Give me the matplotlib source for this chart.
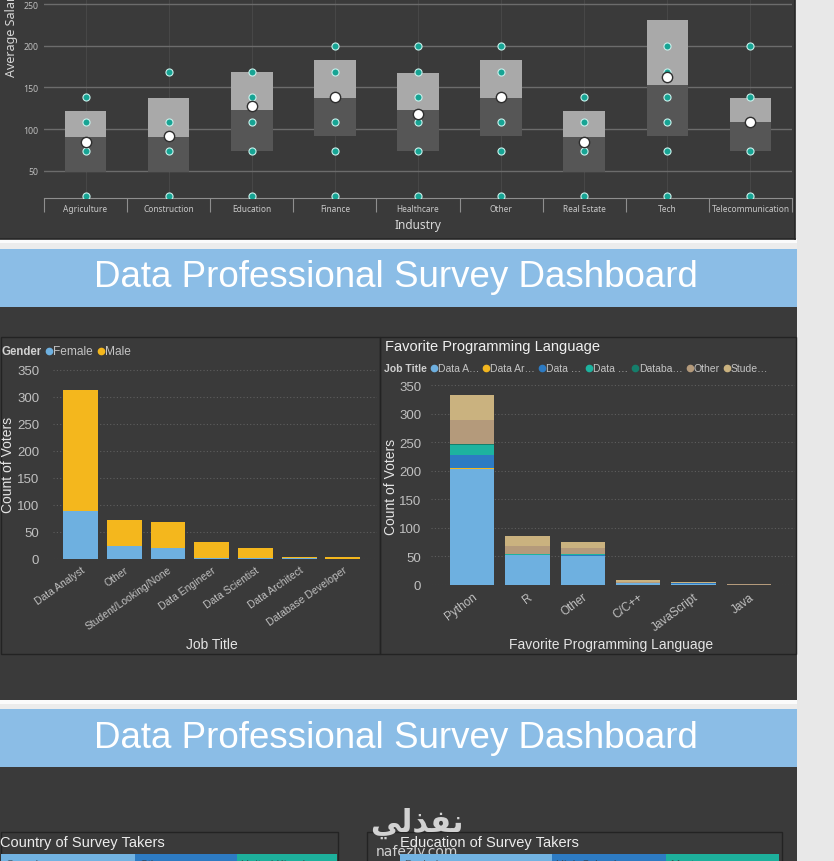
import matplotlib.pyplot as plt
from matplotlib.patches import Rectangle
import numpy as np

plt.rcParams['font.family'] = ['Liberation Sans', 'DejaVu Sans']

W, H = 834, 862

# --- top chart: average salary by industry (box and whisker) ---
industries = ['Agriculture', 'Construction', 'Education', 'Finance', 'Healthcare',
              'Other', 'Real Estate', 'Tech', 'Telecommunication']
sal_q1 = [48, 48, 74, 92, 74, 92, 48, 92, 74]
sal_med = [91, 91, 123, 137, 123, 137, 91, 153, 108]
sal_q3 = [122, 137, 168, 183, 167, 183, 122, 231, 137]
sal_mean = [85, 92, 128, 138, 118, 138, 85, 163, 108]
sal_points = [
    [20, 74, 108, 138],
    [20, 74, 108, 168],
    [20, 74, 108, 138, 168],
    [20, 74, 108, 138, 168, 200],
    [20, 74, 108, 138, 168, 200],
    [20, 74, 108, 138, 168, 200],
    [20, 74, 108, 138],
    [20, 74, 108, 138, 168, 200],
    [20, 74, 108, 138, 200],
]

# --- job title by gender ---
job_titles = ['Data Analyst', 'Other', 'Student/Looking/None', 'Data Engineer',
              'Data Scientist', 'Data Architect', 'Database Developer']
female = [88, 25, 20, 1, 1, 1, 0]
male = [225, 47, 49, 31, 19, 3, 4]

# --- favorite programming language by job title ---
languages = ['Python', 'R', 'Other', 'C/C++', 'JavaScript', 'Java']
lang_series = ['Data Analyst', 'Data Architect', 'Data Engineer', 'Data Scientist',
               'Database Developer', 'Other', 'Student/Looking/None']
lang_legend = ['Data A…', 'Data Ar…', 'Data …', 'Data …', 'Databa…', 'Other', 'Stude…']
lang_counts = [
    [203, 52, 50, 3, 2, 0],   # Data Analyst
    [2, 0, 0, 0, 0, 0],       # Data Architect
    [22, 1, 2, 1, 1, 0],      # Data Engineer
    [18, 2, 2, 0, 0, 0],      # Data Scientist
    [1, 0, 0, 0, 0, 0],       # Database Developer
    [43, 14, 10, 2, 1, 1],    # Other
    [44, 17, 12, 2, 2, 1],    # Student/Looking/None
]

# --- bottom treemap slivers ---
countries = ['Canada', 'Other', 'United Kingdom']
country_share = [134, 102, 100]
educations = ['Bachelors', 'High School', 'Masters']
education_share = [152, 114, 113]

DARK = '#3a3a3a'
BANNER = '#8bbde6'
LBLUE = '#6eb0e0'
ORANGE = '#f4b71d'
lang_colors = ['#6eb0e0', '#f2b61f', '#2d7bc3', '#1db39f', '#157e6b', '#b49a7b', '#cab27f']
cell_colors = ['#72b3e2', '#2d7bc3', '#1db09c']

fig = plt.figure(figsize=(W / 100, H / 100), dpi=100, facecolor='#e8e8e8')


def px_axes(l, t, w, h):
    a = fig.add_axes([l / W, 1 - (t + h) / H, w / W, h / H])
    a.set_facecolor('none')
    a.set_zorder(2)
    return a


bg = fig.add_axes([0, 0, 1, 1])
bg.set_xlim(0, W)
bg.set_ylim(H, 0)
bg.axis('off')
bg.set_zorder(0)


def rect(x, y, w, h, fc, ec='none', lw=0):
    bg.add_patch(Rectangle((x, y), w, h, facecolor=fc, edgecolor=ec, linewidth=lw))


# page background pieces
rect(0, 0, 795, 240, DARK)
rect(0, 240, 797, 4, '#fbfbfb')
rect(0, 244, 797, 6, '#ececec')
rect(0, 250, 797, 58, BANNER)
rect(0, 308, 797, 393, DARK)
rect(0, 701, 797, 4, '#fbfbfb')
rect(0, 705, 797, 5, '#ececec')
rect(0, 710, 797, 58, BANNER)
rect(0, 768, 797, 94, DARK)
bg.plot([795, 795], [0, 240], color='#262626', lw=1.2)
bg.plot([0, 795], [239.5, 239.5], color='#262626', lw=1.2)
rect(0.5, 338, 380, 317, 'none', '#232323', 1)
rect(380.5, 338, 416, 317, 'none', '#232323', 1)
rect(0.5, 833, 338, 40, 'none', '#232323', 1)
rect(367, 833, 415, 40, 'none', '#232323', 1)

title = 'Data Professional Survey Dashboard'
for base in (287, 748):
    bg.text(396, base, title, ha='center', va='baseline', fontsize=26.5, color='white')

# ---------------- top chart ----------------
ax1 = px_axes(44, 0, 748, 199)
xi = np.arange(len(industries))
ax1.set_xlim(-0.5, 8.5)
ax1.set_ylim(17.4, 256)
for i in xi:
    ax1.axvline(i, color='#474747', lw=0.8, zorder=0)
ax1.set_yticks([50, 100, 150, 200, 250])
ax1.yaxis.grid(True, color='#6c6c6c', lw=1)
ax1.set_axisbelow(True)
q1 = np.array(sal_q1)
med = np.array(sal_med)
q3 = np.array(sal_q3)
ax1.bar(xi, med - q1, bottom=q1, width=0.5, color='#565656', zorder=2)
ax1.bar(xi, q3 - med, bottom=med, width=0.5, color='#a9a9a9', zorder=2)
for i, pts in enumerate(sal_points):
    ax1.scatter([i] * len(pts), pts, s=26, c='#17a494', edgecolors='#c9f1ec',
                linewidths=0.8, zorder=3)
ax1.scatter(xi, sal_mean, s=55, c='white', edgecolors='#2e2e2e', linewidths=1, zorder=4)
ax1.set_xticks(xi, industries, fontfamily='Noto Sans')
ax1.set_xticks(np.arange(-0.5, 9, 1), minor=True)
ax1.tick_params(axis='x', which='major', length=0, pad=4, labelsize=6, labelcolor='#c8c8c8')
ax1.tick_params(axis='x', which='minor', length=10, width=0.8, color='#8e8e8e')
ax1.tick_params(axis='y', length=0, pad=4, labelsize=6.3, labelcolor='#bdbdbd')
for lab in ax1.get_yticklabels():
    lab.set_fontfamily('Noto Sans')
for s in ('top', 'left', 'right'):
    ax1.spines[s].set_visible(False)
ax1.spines['bottom'].set_color('#8e8e8e')
ax1.spines['bottom'].set_linewidth(0.8)
bg.text(12, 77, 'Average Salary', rotation=90, ha='center', va='bottom', fontsize=9,
        color='#d6d6d6', fontfamily='Noto Sans')
bg.text(418, 226, 'Industry', ha='center', va='center', fontsize=8.5,
        color='#d9d9d9', fontfamily='Noto Sans')

# ---------------- job title chart ----------------
ax2 = px_axes(53, 365.6, 324, 194.4)
xj = np.arange(len(job_titles))
ax2.set_xlim(-0.63, 6.78)
ax2.set_ylim(0, 360)
ax2.set_yticks(range(0, 351, 50))
ax2.yaxis.grid(True, color='#5e5e5e', ls=(0, (1, 2)), lw=0.8)
ax2.set_axisbelow(True)
ax2.bar(xj, female, width=0.8, color=LBLUE, zorder=2)
ax2.bar(xj, male, bottom=female, width=0.8, color=ORANGE, zorder=2)
ax2.set_xticks(xj, job_titles, rotation=35, ha='right', va='top', rotation_mode='anchor')
ax2.tick_params(axis='x', length=0, pad=4, labelsize=7.5, labelcolor='#c0c0c0')
ax2.tick_params(axis='y', length=0, pad=10, labelsize=9.5, labelcolor='#c0c0c0')
for s in ax2.spines.values():
    s.set_visible(False)
bg.text(212, 645, 'Job Title', ha='center', va='center', fontsize=10, color='#e4e4e4')
bg.text(8, 465, 'Count of Voters', rotation=90, ha='center', va='center', fontsize=10,
        color='#e4e4e4')
bg.text(1, 352, 'Gender', ha='left', va='center', fontsize=8.3, fontweight='bold', color='#d0d0d0')
for dx, lab, col in ((49, 'Female', LBLUE), (101, 'Male', ORANGE)):
    bg.plot(dx, 352, 'o', ms=4.5, color=col)
    bg.text(dx + 4, 352, lab, ha='left', va='center', fontsize=8.6, color='#c4c4c4')

# ---------------- programming language chart ----------------
ax3 = px_axes(431, 380.3, 364, 205.7)
xl = np.arange(len(languages))
ax3.set_xlim(-0.74, 5.83)
ax3.set_ylim(0, 360)
ax3.set_yticks(range(0, 351, 50))
ax3.yaxis.grid(True, color='#5e5e5e', ls=(0, (1, 2)), lw=0.8)
ax3.set_axisbelow(True)
bottom = np.zeros(len(languages))
for counts, col in zip(lang_counts, lang_colors):
    ax3.bar(xl, counts, bottom=bottom, width=0.8, color=col, zorder=2)
    bottom += np.array(counts)
ax3.set_xticks(xl, languages, rotation=37, ha='right', va='top', rotation_mode='anchor')
ax3.tick_params(axis='x', length=0, pad=4, labelsize=8.5, labelcolor='#c0c0c0')
ax3.tick_params(axis='y', length=0, pad=7, labelsize=9.5, labelcolor='#c0c0c0')
for s in ax3.spines.values():
    s.set_visible(False)
bg.text(385, 347, 'Favorite Programming Language', ha='left', va='center', fontsize=10.5,
        color='#f0f0f0')
bg.text(611, 645, 'Favorite Programming Language', ha='center', va='center', fontsize=10,
        color='#e4e4e4')
bg.text(391, 487, 'Count of Voters', rotation=90, ha='center', va='center', fontsize=10,
        color='#e4e4e4')
bg.text(384, 369, 'Job Title', ha='left', va='center', fontsize=7.5, fontweight='bold',
        color='#d0d0d0')
leg_x = [434, 486, 542, 589, 635, 690, 727]
for lx, lab, col in zip(leg_x, lang_legend, lang_colors):
    bg.plot(lx, 369, 'o', ms=4.5, color=col)
    bg.text(lx + 4, 369, lab, ha='left', va='center', fontsize=7.5, color='#c4c4c4')

# ---------------- bottom panels (cut off) ----------------
bg.text(0, 843, 'Country of Survey Takers', ha='left', va='center', fontsize=10.5, color='#ececec')
bg.text(400, 843, 'Education of Survey Takers', ha='left', va='center', fontsize=10.5,
        color='#ececec')
for left, names, shares in ((1, countries, country_share), (400, educations, education_share)):
    axc = px_axes(left, 855, sum(shares), 7)
    axc.set_xlim(0, sum(shares))
    axc.set_ylim(0, 1)
    axc.axis('off')
    starts = np.concatenate([[0], np.cumsum(shares)[:-1]])
    axc.barh(0.5, shares, left=starts, height=1, color=cell_colors)
    for st, nm in zip(starts, names):
        axc.text(st + 4, 0.35, nm, ha='left', va='top', fontsize=8, color='#2c2c2c', alpha=0.6)

# watermark
bg.text(417, 823, '\ufef2\ufedf\ufeac\ufed4\ufee7', ha='center', va='center', fontsize=22,
        fontweight='bold', color='#d2d2d2', fontfamily='DejaVu Sans', zorder=5)
bg.text(417, 852, 'nafezly.com', ha='center', va='center', fontsize=10, color='#d2d2d2',
        fontfamily='DejaVu Sans', zorder=5)

fig.savefig('out.png', dpi=100, facecolor=fig.get_facecolor())
